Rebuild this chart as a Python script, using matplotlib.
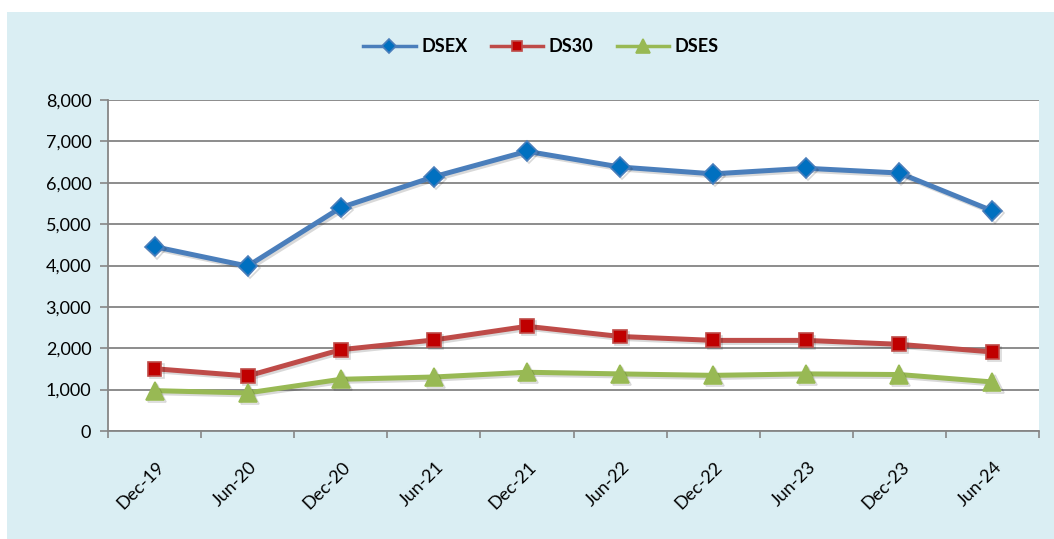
"""DSE index trend line chart (DSEX, DS30, DSES)."""

import matplotlib
matplotlib.use("agg")
import matplotlib.pyplot as plt
import matplotlib.patheffects as pe
import matplotlib.transforms as mtransforms
from matplotlib.patches import Rectangle
from matplotlib.ticker import FuncFormatter, MultipleLocator

periods = ["Dec-19", "Jun-20", "Dec-20", "Jun-21", "Dec-21",
           "Jun-22", "Dec-22", "Jun-23", "Dec-23", "Jun-24"]
dsex = [4455, 3985, 5400, 6145, 6760, 6380, 6215, 6350, 6235, 5320]
ds30 = [1505, 1330, 1965, 2200, 2530, 2285, 2190, 2190, 2095, 1910]
dses = [975, 920, 1250, 1305, 1420, 1380, 1345, 1380, 1365, 1185]

W, H = 1054, 539
plt.rcParams["font.family"] = ["Lato", "DejaVu Sans"]

fig = plt.figure(figsize=(W / 100, H / 100), dpi=100, facecolor="white")
# light blue chart area background
fig.patches.append(Rectangle((7 / W, 0), 1 - 7 / W, (H - 12) / H,
                             transform=fig.transFigure, facecolor="#DAEEF3",
                             edgecolor="none", zorder=-10))

ax = fig.add_axes([108 / W, 1 - 431 / H, (1039 - 108) / W, (431 - 100) / H])
ax.set_facecolor("white")

x = list(range(len(periods)))
shadow = [pe.SimpleLineShadow(offset=(1.5, -1.5), alpha=0.15, shadow_color="black"),
          pe.Normal()]

series = [
    ("DSEX", dsex, "#4A7EBB", "#0070C0", "D", 10),
    ("DS30", ds30, "#BE4B48", "#C00000", "s", 10),
    ("DSES", dses, "#98B954", "#98B954", "^", 13),
]
for name, vals, lc, mc, mk, ms in series:
    ax.plot(x, vals, color=lc, linewidth=3.6, marker=mk, markersize=ms,
            markerfacecolor=mc, markeredgecolor=lc, markeredgewidth=1.2,
            label=name, zorder=3, path_effects=shadow)

ax.set_xlim(-0.5, len(periods) - 0.5)
ax.set_ylim(0, 8000)
ax.yaxis.set_major_locator(MultipleLocator(1000))
ax.yaxis.set_major_formatter(FuncFormatter(lambda v, _: f"{v:,.0f}"))
ax.grid(axis="y", color="#8C8C8C", linewidth=1.4, zorder=1)
ax.set_axisbelow(True)

ax.set_xticks(x)
ax.set_xticklabels(periods, rotation=45, ha="right", va="center",
                   rotation_mode="anchor")
ax.set_xticks([i - 0.5 for i in range(len(periods) + 1)], minor=True)
ax.tick_params(axis="x", which="major", length=0, pad=24, labelsize=13)
ax.tick_params(axis="x", which="minor", length=5, width=1.2, color="#868686")
ax.tick_params(axis="y", length=6, width=1.2, color="#868686", labelsize=13, pad=6)
shift = mtransforms.ScaledTranslation(7 / 100, 0, fig.dpi_scale_trans)
for lbl in ax.get_xticklabels():
    lbl.set_transform(lbl.get_transform() + shift)

for side in ("top", "right"):
    ax.spines[side].set_visible(False)
for side in ("left", "bottom"):
    ax.spines[side].set_color("#868686")
    ax.spines[side].set_linewidth(1.3)

handles, labels = ax.get_legend_handles_labels()
leg = fig.legend(handles, labels, loc="center",
                 bbox_to_anchor=(541 / W, 1 - 47 / H), ncol=3,
                 frameon=False, handlelength=2.9, columnspacing=1.3,
                 handletextpad=0.3, markerscale=0.75,
                 prop={"weight": "bold", "size": 13})
for h in leg.legend_handles:
    h.set_path_effects([])
    h.set_linewidth(2.5)

fig.savefig("out.png", dpi=100, facecolor=fig.get_facecolor())
